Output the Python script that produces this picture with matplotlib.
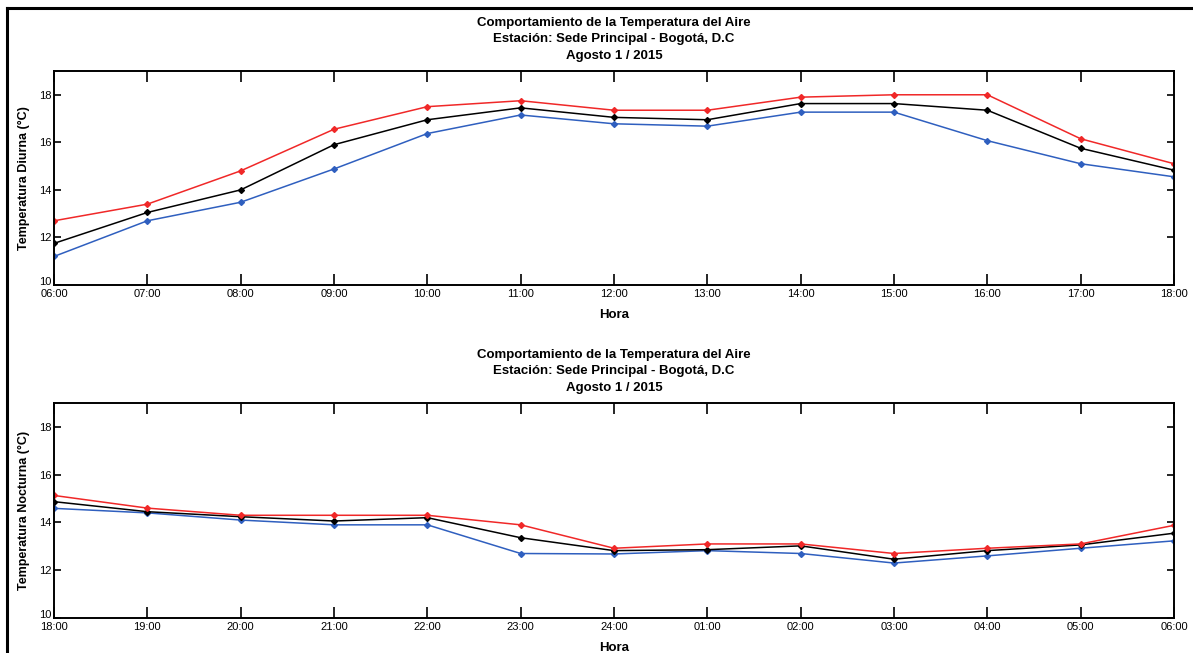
#Temperatura del aire - Sede Principal Bogota
#graficas diurna y nocturna (max, media, min)

import numpy as np
import matplotlib.pyplot as plt
import matplotlib.transforms as mtransforms
from matplotlib.lines import Line2D

plt.rcParams['font.family'] = ['Liberation Sans', 'DejaVu Sans']

#datos
horas_dia = ['06:00', '07:00', '08:00', '09:00', '10:00', '11:00', '12:00',
             '13:00', '14:00', '15:00', '16:00', '17:00', '18:00']
max_dia = [12.7, 13.4, 14.8, 16.55, 17.5, 17.75, 17.35, 17.35, 17.9, 18.0, 18.0, 16.15, 15.1]
med_dia = [11.75, 13.05, 14.0, 15.9, 16.95, 17.45, 17.05, 16.95, 17.63, 17.63, 17.35, 15.75, 14.83]
min_dia = [11.2, 12.7, 13.48, 14.88, 16.37, 17.15, 16.78, 16.68, 17.27, 17.27, 16.07, 15.1, 14.55]

horas_noche = ['18:00', '19:00', '20:00', '21:00', '22:00', '23:00', '24:00',
               '01:00', '02:00', '03:00', '04:00', '05:00', '06:00']
max_noche = [15.13, 14.6, 14.3, 14.3, 14.3, 13.9, 12.92, 13.1, 13.1, 12.7, 12.92, 13.1, 13.88]
med_noche = [14.87, 14.45, 14.24, 14.06, 14.2, 13.36, 12.82, 12.86, 13.02, 12.46, 12.82, 13.06, 13.55]
min_noche = [14.59, 14.4, 14.1, 13.9, 13.9, 12.7, 12.68, 12.82, 12.7, 12.3, 12.6, 12.92, 13.23]

titulo = 'Comportamiento de la Temperatura del Aire\nEstación: Sede Principal - Bogotá, D.C\nAgosto 1 / 2015'

W, H = 1193, 653
fig = plt.figure(figsize=(W / 100, H / 100), dpi=100)

#marco negro arriba e izquierda
fig.add_artist(Line2D([7 / W, 1.0], [1 - 8 / H, 1 - 8 / H], color='black', lw=2.2))
fig.add_artist(Line2D([7 / W, 7 / W], [0, 1 - 8 / H], color='black', lw=2.2))


def panel(rect, horas, vmax, vmed, vmin, ylabel):
    ax = fig.add_axes(rect)
    x = np.arange(len(horas))
    ax.plot(x, vmin, '-', color='#2f5fbf', lw=1.1, marker='D', ms=3)
    ax.plot(x, vmed, '-', color='black', lw=1.1, marker='D', ms=3)
    ax.plot(x, vmax, '-', color='#f02828', lw=1.1, marker='D', ms=3)
    ax.set_xlim(0, len(horas) - 1)
    ax.set_ylim(10, 19)
    ax.set_xticks(x)
    ax.set_xticklabels(horas)
    ax.set_yticks([10, 12, 14, 16, 18])
    ax.tick_params(axis='x', direction='in', top=True, length=8, width=1.2,
                   labelsize=8, pad=3)
    ax.tick_params(axis='y', direction='in', right=True, length=5, width=1.2,
                   labelsize=8, pad=2)
    for s in ax.spines.values():
        s.set_linewidth(1.4)
    #el "10" va un poco arriba, como en el original
    ax.get_yticklabels()[0].set_transform(
        ax.get_yticklabels()[0].get_transform()
        + mtransforms.ScaledTranslation(0, 4 / 100, fig.dpi_scale_trans))
    ax.set_title(titulo, fontsize=9.5, fontweight='bold', linespacing=1.45, pad=9)
    ax.set_xlabel('Hora', fontsize=9.5, fontweight='bold', labelpad=7)
    ax.set_ylabel(ylabel, fontsize=9, fontweight='bold', labelpad=6)
    return ax


panel([54 / W, 1 - 285 / H, 1120 / W, 214 / H], horas_dia, max_dia, med_dia, min_dia,
      'Temperatura Diurna (°C)')
panel([54 / W, 1 - 618 / H, 1120 / W, 215 / H], horas_noche, max_noche, med_noche, min_noche,
      'Temperatura Nocturna (°C)')

plt.savefig('out.png', dpi=100)
